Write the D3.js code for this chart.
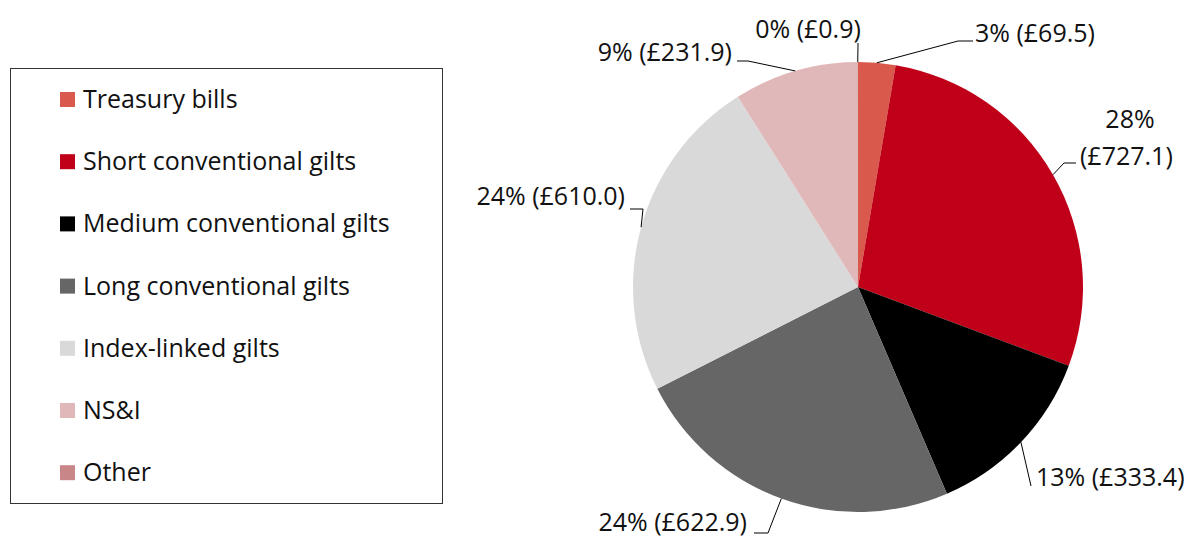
<!DOCTYPE html>
<html>
<head>
<meta charset="utf-8">
<script src="https://cdn.jsdelivr.net/npm/d3@7"></script>
<style>
  body { margin: 0; background: #fff; }
  text { font-family: "Open Sans", "Noto Sans", sans-serif; fill: #111; }
</style>
</head>
<body>
<div id="chart"></div>
<script>
// data (£bn)
var categories = ['Treasury bills', 'Short conventional gilts', 'Medium conventional gilts',
  'Long conventional gilts', 'Index-linked gilts', 'NS&I', 'Other']
var values = [69.5, 727.1, 333.4, 622.9, 610.0, 231.9, 0.9]
var shares = ['3%', '28%', '13%', '24%', '24%', '9%', '0%']
var colours = ['#d95a4c', '#c00018', '#000000', '#666666', '#d9d9d9', '#e1b8b9', '#c98688']

var w = 1187
var h = 537
var cx = 858, cy = 287, r = 225

var svg = d3.select('#chart')
  .append('svg')
  .attr('width', w)
  .attr('height', h)

var rows = categories.map(function(c, i) {
  return { name: c, value: values[i], share: shares[i], colour: colours[i] }
})

//pie
var pie = d3.pie().sort(null).value(function(d) { return d.value })
var arc = d3.arc().innerRadius(0).outerRadius(r)
var arcs = pie(rows)

var g = svg.append('g').attr('transform', 'translate(' + cx + ',' + cy + ')')

g.selectAll('path')
  .data(arcs)
  .enter()
  .append('path')
  .attr('d', arc)
  .attr('fill', function(d) { return d.data.colour })

// label placement, relative to pie centre: elbow of leader, end of leader, text anchor point (baseline)
var labelLayout = [
  { elbow: [100, -246], end: [115, -246], text: [117, -245], anchor: 'start' },
  { elbow: [206, -124], end: [218, -124], text: [222, -122], anchor: 'start', twoLines: true },
  { elbow: [173, 199], end: null, text: [178, 199], anchor: 'start' },
  { elbow: [-90, 246], end: [-104, 246], text: [-111, 244], anchor: 'end' },
  { elbow: [-215, -78], end: [-228, -78], text: [-233, -82], anchor: 'end' },
  { elbow: [-110, -226], end: [-121, -226], text: [-126, -226], anchor: 'end' },
  { elbow: [0, -244], end: null, text: [-50, -249], anchor: 'middle' }
]

var fontSize = 25
var fmt = d3.format('.1f')

arcs.forEach(function(d, i) {
  var mid = (d.startAngle + d.endAngle) / 2
  var p = [Math.sin(mid) * r, -Math.cos(mid) * r]
  var L = labelLayout[i]
  var pts = [p, L.elbow]
  if (L.end) pts.push(L.end)
  g.append('path')
    .attr('d', d3.line()(pts))
    .attr('fill', 'none')
    .attr('stroke', '#000')
    .attr('stroke-width', 1)

  var t = g.append('text')
    .attr('x', L.text[0])
    .attr('y', L.text[1])
    .attr('text-anchor', L.anchor)
    .style('font-size', fontSize + 'px')
  if (L.twoLines) {
    t.append('tspan').attr('x', L.text[0] + 50).attr('dy', -37).attr('text-anchor', 'middle').text(d.data.share)
    t.append('tspan').attr('x', L.text[0]).attr('dy', 37).text('(£' + fmt(d.data.value) + ')')
  } else {
    t.text(d.data.share + ' (£' + fmt(d.data.value) + ')')
  }
})

//legend
var legend = svg.append('g')
legend.append('rect')
  .attr('x', 10.5).attr('y', 68.5)
  .attr('width', 432).attr('height', 435)
  .attr('fill', 'none')
  .attr('stroke', '#333')
  .attr('stroke-width', 1)

var item = legend.selectAll('g.item')
  .data(rows)
  .enter()
  .append('g')
  .attr('class', 'item')
  .attr('transform', function(d, i) { return 'translate(60,' + (100 + i * 62.2) + ')' })

item.append('rect')
  .attr('x', 0).attr('y', -8)
  .attr('width', 15).attr('height', 15)
  .attr('fill', function(d) { return d.colour })

item.append('text')
  .attr('x', 23).attr('y', 8)
  .style('font-size', fontSize + 'px')
  .text(function(d) { return d.name })
</script>
</body>
</html>
